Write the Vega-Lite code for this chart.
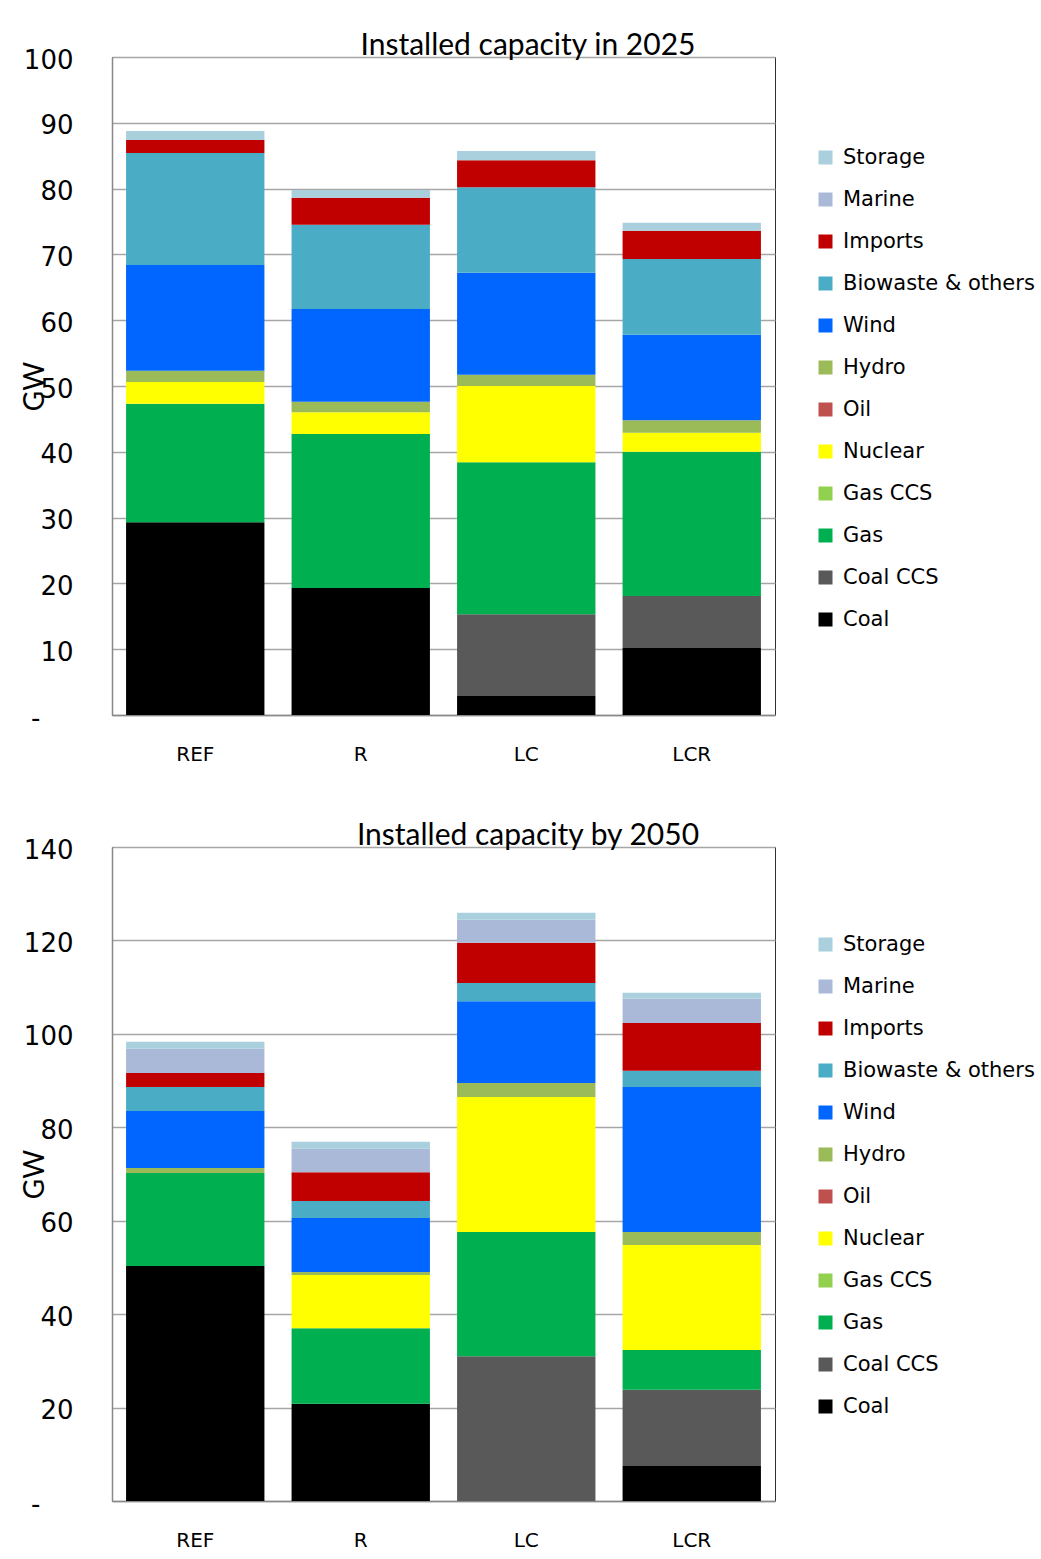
{
  "$schema": "https://vega.github.io/schema/vega-lite/v6.json",
  "background": "white",
  "padding": {"left": 20, "top": 30, "right": 0, "bottom": 5},
  "spacing": 55,
  "datasets": {
    "stackOrder": [
      {"source": "Coal", "rank": 1},
      {"source": "Coal CCS", "rank": 2},
      {"source": "Gas", "rank": 3},
      {"source": "Gas CCS", "rank": 4},
      {"source": "Nuclear", "rank": 5},
      {"source": "Oil", "rank": 6},
      {"source": "Hydro", "rank": 7},
      {"source": "Wind", "rank": 8},
      {"source": "Biowaste & others", "rank": 9},
      {"source": "Imports", "rank": 10},
      {"source": "Marine", "rank": 11},
      {"source": "Storage", "rank": 12}
    ],
    "d2025": [
      {"scenario": "REF", "source": "Coal", "gw": 29.3},
      {"scenario": "REF", "source": "Gas", "gw": 18.0},
      {"scenario": "REF", "source": "Nuclear", "gw": 3.3},
      {"scenario": "REF", "source": "Hydro", "gw": 1.7},
      {"scenario": "REF", "source": "Wind", "gw": 16.1},
      {"scenario": "REF", "source": "Biowaste & others", "gw": 17.0},
      {"scenario": "REF", "source": "Imports", "gw": 2.0},
      {"scenario": "REF", "source": "Storage", "gw": 1.35},
      {"scenario": "R", "source": "Coal", "gw": 19.3},
      {"scenario": "R", "source": "Gas", "gw": 23.4},
      {"scenario": "R", "source": "Nuclear", "gw": 3.3},
      {"scenario": "R", "source": "Hydro", "gw": 1.6},
      {"scenario": "R", "source": "Wind", "gw": 14.1},
      {"scenario": "R", "source": "Biowaste & others", "gw": 12.8},
      {"scenario": "R", "source": "Imports", "gw": 4.1},
      {"scenario": "R", "source": "Storage", "gw": 1.2},
      {"scenario": "LC", "source": "Coal", "gw": 2.9},
      {"scenario": "LC", "source": "Coal CCS", "gw": 12.4},
      {"scenario": "LC", "source": "Gas", "gw": 23.1},
      {"scenario": "LC", "source": "Nuclear", "gw": 11.6},
      {"scenario": "LC", "source": "Hydro", "gw": 1.7},
      {"scenario": "LC", "source": "Wind", "gw": 15.5},
      {"scenario": "LC", "source": "Biowaste & others", "gw": 13.0},
      {"scenario": "LC", "source": "Imports", "gw": 4.1},
      {"scenario": "LC", "source": "Storage", "gw": 1.4},
      {"scenario": "LCR", "source": "Coal", "gw": 10.2},
      {"scenario": "LCR", "source": "Coal CCS", "gw": 7.9},
      {"scenario": "LCR", "source": "Gas", "gw": 21.9},
      {"scenario": "LCR", "source": "Nuclear", "gw": 2.9},
      {"scenario": "LCR", "source": "Hydro", "gw": 1.9},
      {"scenario": "LCR", "source": "Wind", "gw": 13.0},
      {"scenario": "LCR", "source": "Biowaste & others", "gw": 11.5},
      {"scenario": "LCR", "source": "Imports", "gw": 4.3},
      {"scenario": "LCR", "source": "Storage", "gw": 1.2}
    ],
    "d2050": [
      {"scenario": "REF", "source": "Coal", "gw": 50.3},
      {"scenario": "REF", "source": "Gas", "gw": 19.9},
      {"scenario": "REF", "source": "Hydro", "gw": 1.1},
      {"scenario": "REF", "source": "Wind", "gw": 12.2},
      {"scenario": "REF", "source": "Biowaste & others", "gw": 5.1},
      {"scenario": "REF", "source": "Imports", "gw": 3.0},
      {"scenario": "REF", "source": "Marine", "gw": 5.2},
      {"scenario": "REF", "source": "Storage", "gw": 1.5},
      {"scenario": "R", "source": "Coal", "gw": 20.8},
      {"scenario": "R", "source": "Gas", "gw": 16.2},
      {"scenario": "R", "source": "Nuclear", "gw": 11.4},
      {"scenario": "R", "source": "Hydro", "gw": 0.6},
      {"scenario": "R", "source": "Wind", "gw": 11.6},
      {"scenario": "R", "source": "Biowaste & others", "gw": 3.6},
      {"scenario": "R", "source": "Imports", "gw": 6.2},
      {"scenario": "R", "source": "Marine", "gw": 5.0},
      {"scenario": "R", "source": "Storage", "gw": 1.5},
      {"scenario": "LC", "source": "Coal CCS", "gw": 31.0},
      {"scenario": "LC", "source": "Gas", "gw": 26.6},
      {"scenario": "LC", "source": "Nuclear", "gw": 28.9},
      {"scenario": "LC", "source": "Hydro", "gw": 3.0},
      {"scenario": "LC", "source": "Wind", "gw": 17.5},
      {"scenario": "LC", "source": "Biowaste & others", "gw": 3.9},
      {"scenario": "LC", "source": "Imports", "gw": 8.6},
      {"scenario": "LC", "source": "Marine", "gw": 4.9},
      {"scenario": "LC", "source": "Storage", "gw": 1.5},
      {"scenario": "LCR", "source": "Coal", "gw": 7.5},
      {"scenario": "LCR", "source": "Coal CCS", "gw": 16.3},
      {"scenario": "LCR", "source": "Gas", "gw": 8.5},
      {"scenario": "LCR", "source": "Nuclear", "gw": 22.5},
      {"scenario": "LCR", "source": "Hydro", "gw": 2.8},
      {"scenario": "LCR", "source": "Wind", "gw": 31.0},
      {"scenario": "LCR", "source": "Biowaste & others", "gw": 3.5},
      {"scenario": "LCR", "source": "Imports", "gw": 10.2},
      {"scenario": "LCR", "source": "Marine", "gw": 5.2},
      {"scenario": "LCR", "source": "Storage", "gw": 1.3}
    ]
  },
  "vconcat": [
    {
      "title": {"text": "Installed capacity in 2025"},
      "width": 663,
      "height": 658,
      "data": {"name": "d2025"},
      "transform": [{"lookup": "source", "from": {"data": {"name": "stackOrder"}, "key": "source", "fields": ["rank"]}}],
      "mark": {"type": "bar"},
      "encoding": {
        "x": {"field": "scenario", "type": "nominal", "sort": ["REF", "R", "LC", "LCR"],
              "scale": {"paddingInner": 0.164, "paddingOuter": 0.085}, "axis": {"title": null}},
        "y": {"field": "gw", "type": "quantitative", "stack": "zero",
              "scale": {"domain": [0, 100], "nice": false},
              "axis": {"values": [0, 10, 20, 30, 40, 50, 60, 70, 80, 90, 100], "title": "GW", "titleY": 329}},
        "order": {"field": "rank", "type": "quantitative", "sort": "ascending"},
        "color": {"field": "source", "type": "nominal",
                  "scale": {"domain": ["Storage", "Marine", "Imports", "Biowaste & others", "Wind", "Hydro", "Oil", "Nuclear", "Gas CCS", "Gas", "Coal CCS", "Coal"],
                            "range": ["#AACFDD", "#ABB9D8", "#C00000", "#4BACC6", "#0066FF", "#9BBB59", "#C0504D", "#FFFF00", "#92D050", "#00B050", "#595959", "#000000"]},
                  "legend": {"legendY": 90}}
      }
    },
    {
      "title": {"text": "Installed capacity by 2050"},
      "width": 663,
      "height": 654,
      "data": {"name": "d2050"},
      "transform": [{"lookup": "source", "from": {"data": {"name": "stackOrder"}, "key": "source", "fields": ["rank"]}}],
      "mark": {"type": "bar"},
      "encoding": {
        "x": {"field": "scenario", "type": "nominal", "sort": ["REF", "R", "LC", "LCR"],
              "scale": {"paddingInner": 0.164, "paddingOuter": 0.085}, "axis": {"title": null}},
        "y": {"field": "gw", "type": "quantitative", "stack": "zero",
              "scale": {"domain": [0, 140], "nice": false},
              "axis": {"values": [0, 20, 40, 60, 80, 100, 120, 140], "title": "GW", "titleY": 327}},
        "order": {"field": "rank", "type": "quantitative", "sort": "ascending"},
        "color": {"field": "source", "type": "nominal",
                  "scale": {"domain": ["Storage", "Marine", "Imports", "Biowaste & others", "Wind", "Hydro", "Oil", "Nuclear", "Gas CCS", "Gas", "Coal CCS", "Coal"],
                            "range": ["#AACFDD", "#ABB9D8", "#C00000", "#4BACC6", "#0066FF", "#9BBB59", "#C0504D", "#FFFF00", "#92D050", "#00B050", "#595959", "#000000"]},
                  "legend": {"legendY": 87}}
      }
    }
  ],
  "resolve": {"scale": {"color": "independent"}, "legend": {"color": "independent"}},
  "config": {
    "view": {"stroke": "#303030", "strokeWidth": 1},
    "title": {"font": "Lato", "fontSize": 30, "fontWeight": "normal", "color": "#000000", "anchor": "middle", "frame": "bounds", "offset": -14},
    "axis": {"domainColor": "#888888", "domainWidth": 1.5, "ticks": false, "labelColor": "#000000", "titleColor": "#000000"},
    "axisX": {"grid": false, "labelFont": "DejaVu Sans", "labelFontSize": 20, "labelPadding": 29, "labelAngle": 0},
    "axisY": {"grid": true, "gridColor": "#A6A6A6", "gridWidth": 1.5, "labelFont": "DejaVu Sans", "labelFontSize": 26,
              "labelPadding": {"condition": {"test": "datum.value == 0", "value": 72}, "value": 39},
              "labelOffset": 3,
              "labelExpr": "datum.value == 0 ? '-' : datum.label",
              "titleFont": "Lato", "titleFontSize": 28, "titleFontWeight": "normal", "titleX": -77, "titleAngle": -90, "titleAlign": "center", "titleBaseline": "middle"},
    "legend": {"orient": "none", "legendX": 703, "title": null, "symbolType": "square", "symbolSize": 196, "symbolStrokeWidth": 0, "symbolOpacity": 1,
               "labelFont": "DejaVu Sans", "labelFontSize": 21, "labelLimit": 300, "labelOffset": 7, "rowPadding": 20, "labelColor": "#000000"}
  }
}
